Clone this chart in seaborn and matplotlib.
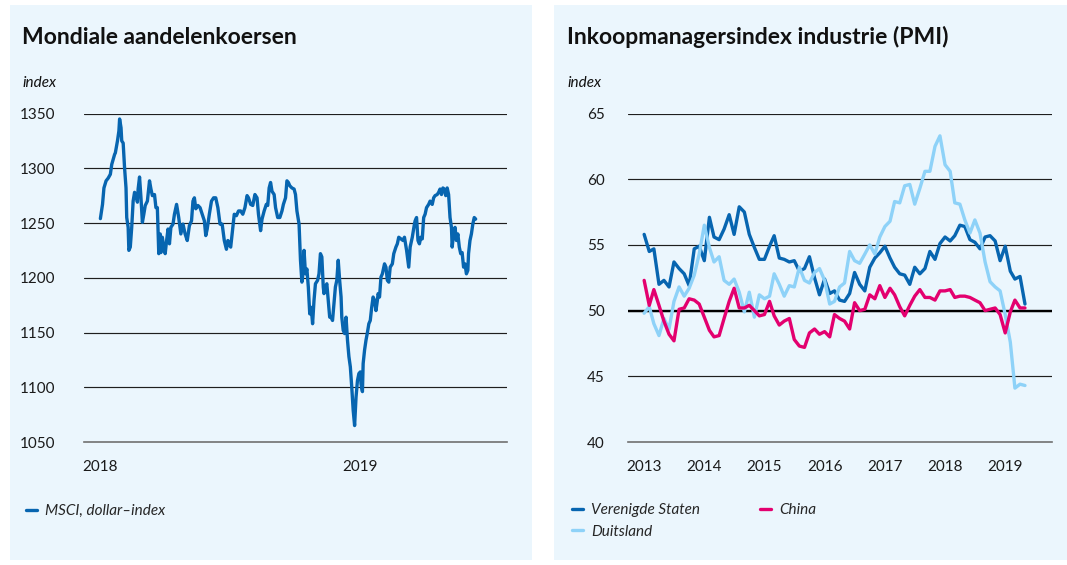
"""Mondiale aandelenkoersen (MSCI) and PMI industry panels, side by side."""

import matplotlib
matplotlib.use("Agg")
import matplotlib.pyplot as plt
from matplotlib.patches import Rectangle
import pandas as pd
import seaborn as sns

# MSCI world, dollar index: days since 2018-01-01 and index level
msci_days = [
    0, 3, 5, 8, 11, 14, 16, 18, 20, 21, 24, 26, 27, 29, 30, 32, 34, 36, 37, 39,
    40, 42, 44, 46, 48, 50, 52, 53, 55, 57, 59, 61, 63, 66, 69, 71, 73, 76, 78, 80,
    82, 84, 85, 87, 89, 91, 93, 95, 97, 99, 102, 104, 107, 110, 113, 116, 119, 122, 125, 128,
    130, 132, 134, 137, 140, 143, 146, 148, 150, 153, 156, 159, 162, 165, 168, 171, 174, 177, 179, 182,
    183, 186, 188, 191, 194, 197, 200, 203, 206, 208, 211, 214, 217, 220, 222, 225, 227, 230, 233, 235,
    237, 239, 241, 244, 246, 249, 252, 255, 257, 260, 262, 264, 266, 269, 272, 274, 276, 279, 281, 283,
    285, 286, 288, 290, 292, 294, 296, 298, 300, 302, 305, 307, 309, 311, 313, 314, 316, 318, 320, 322,
    324, 326, 328, 330, 332, 334, 336, 338, 339, 341, 343, 345, 347, 349, 351, 353, 355, 357, 359, 361,
    363, 365, 366, 368, 369, 371, 373, 375, 377, 379, 381, 383, 385, 387, 389, 390, 392, 394, 396, 399,
    401, 403, 405, 407, 410, 412, 415, 417, 419, 422, 425, 427, 430, 433, 435, 438, 441, 442, 444, 446,
    448, 450, 452, 454, 456, 458, 461, 463, 466, 468, 470, 473, 475, 477, 479, 481, 483, 485, 487, 489,
    491, 493, 494, 496, 498, 500, 502, 504, 506, 508, 510, 512, 514, 516, 517, 519, 521, 523, 525, 527,
]
msci_values = [
    1254, 1267, 1282, 1288.5, 1291, 1294.5, 1303.6, 1308, 1312.7, 1314, 1325, 1334, 1345, 1337, 1325, 1323, 1300, 1282, 1255, 1246,
    1225, 1228, 1246, 1270, 1278, 1276, 1269, 1281, 1292, 1273, 1250.6, 1258, 1266, 1270, 1288.5, 1281, 1275, 1276, 1264, 1264,
    1222, 1240, 1223, 1237, 1228, 1222, 1234, 1244.5, 1231, 1246, 1249, 1258, 1267, 1255, 1240, 1249, 1240, 1234, 1247.6, 1252,
    1270, 1273, 1263, 1266, 1264, 1258, 1252, 1238.5, 1244.5, 1258, 1270, 1273, 1273, 1264, 1249, 1249, 1234, 1226, 1234, 1229,
    1228, 1246, 1258, 1256.7, 1261, 1261, 1258, 1264, 1275, 1273, 1267, 1266, 1276, 1273, 1258, 1243, 1253.6, 1261, 1267, 1266,
    1282, 1287, 1279, 1276, 1264, 1255, 1255, 1261, 1267, 1273, 1288.5, 1287, 1284, 1282, 1281, 1276, 1261, 1249, 1216, 1196,
    1206.7, 1225, 1203.6, 1208, 1191.5, 1167, 1173, 1158, 1179.4, 1194.5, 1197.6, 1203.6, 1222, 1219, 1191.5, 1185.5, 1191.5, 1194.5, 1179.4, 1164,
    1164, 1161, 1176, 1191.5, 1197.6, 1216, 1197.6, 1182.4, 1164, 1152, 1149, 1164, 1143, 1128, 1118.6, 1100, 1079, 1065, 1091, 1106,
    1112.5, 1114, 1103, 1096, 1121.6, 1134, 1143, 1150, 1158, 1161, 1173, 1182.4, 1179.4, 1170, 1179.4, 1185.5, 1182.4, 1200.6, 1203.6, 1212.7,
    1209.7, 1197.6, 1196, 1209.7, 1212.7, 1222, 1228, 1231, 1237, 1235.5, 1234, 1237, 1225, 1209.7, 1228, 1237, 1249, 1252, 1255, 1234,
    1231, 1237, 1235.5, 1255, 1258, 1264, 1267, 1270, 1267, 1273, 1275, 1276, 1278, 1281, 1276, 1282, 1281, 1275, 1282, 1276,
    1255, 1246, 1228, 1240, 1246, 1234, 1240, 1228, 1222, 1223, 1209.7, 1212.7, 1203.6, 1206.7, 1222, 1234, 1240, 1249, 1255, 1253.6,
]

# Monthly PMI, January 2013 - May 2019
pmi_us = [
    55.8, 54.5, 54.7, 52.0, 52.3, 51.8, 53.7, 53.2, 52.8, 51.9, 54.7, 54.9,
    53.8, 57.1, 55.6, 55.4, 56.2, 57.3, 55.8, 57.9, 57.5, 55.8, 54.8, 53.9,
    53.9, 54.9, 55.7, 54.0, 53.9, 53.7, 53.8, 53.0, 53.2, 54.1, 52.5, 51.2,
    52.4, 51.3, 51.5, 50.8, 50.7, 51.3, 52.9, 52.0, 51.5, 53.3, 54.0, 54.4,
    54.9, 54.0, 53.3, 52.8, 52.7, 52.0, 53.3, 52.8, 53.2, 54.5, 53.9, 55.1,
    55.6, 55.3, 55.7, 56.5, 56.4, 55.4, 55.2, 54.7, 55.6, 55.7, 55.3, 53.8,
    54.9, 53.0, 52.4, 52.6, 50.5,
]
pmi_china = [
    52.3, 50.4, 51.6, 50.4, 49.2, 48.2, 47.7, 50.1, 50.2, 50.9, 50.8, 50.5,
    49.5, 48.5, 48.0, 48.1, 49.4, 50.7, 51.7, 50.2, 50.2, 50.4, 50.0, 49.6,
    49.7, 50.7, 49.6, 48.9, 49.2, 49.4, 47.8, 47.3, 47.2, 48.3, 48.6, 48.2,
    48.4, 48.0, 49.7, 49.4, 49.2, 48.6, 50.6, 50.0, 50.1, 51.2, 50.9, 51.9,
    51.0, 51.7, 51.2, 50.3, 49.6, 50.4, 51.1, 51.6, 51.0, 51.0, 50.8, 51.5,
    51.5, 51.6, 51.0, 51.1, 51.1, 51.0, 50.8, 50.6, 50.0, 50.1, 50.2, 49.7,
    48.3, 49.9, 50.8, 50.2, 50.2,
]
pmi_germany = [
    49.8, 50.3, 49.0, 48.1, 49.4, 48.6, 50.7, 51.8, 51.1, 51.7, 52.7, 54.3,
    56.5, 54.8, 53.7, 54.1, 52.3, 52.0, 52.4, 51.4, 49.9, 51.4, 49.5, 51.2,
    50.9, 51.1, 52.8, 52.0, 51.1, 51.9, 51.8, 53.3, 52.3, 52.1, 52.9, 53.2,
    52.3, 50.5, 50.7, 51.8, 52.1, 54.5, 53.8, 53.6, 54.3, 55.0, 54.3, 55.6,
    56.4, 56.8, 58.3, 58.2, 59.5, 59.6, 58.1, 59.3, 60.6, 60.6, 62.5, 63.3,
    61.1, 60.6, 58.2, 58.1, 56.9, 55.9, 56.9, 55.9, 53.7, 52.2, 51.8, 51.5,
    49.7, 47.6, 44.1, 44.4, 44.3,
]

msci_ticks = [1050, 1100, 1150, 1200, 1250, 1300, 1350]
pmi_ticks = [40, 45, 50, 55, 60, 65]

DARK_BLUE = "#0765b0"
LIGHT_BLUE = "#8ed2f8"
MAGENTA = "#e3006f"
PANEL = "#ebf6fd"
GRID = "#1e1e1e"
AXIS = "#707070"

W, H = 1067, 565

sns.set_theme(style="white")
plt.rcParams["font.family"] = ["Lato", "DejaVu Sans"]


def fx(px):
    return px / W


def fy(py):
    return 1 - py / H


def style_axis(ax, ticks, pad):
    ax.set_facecolor("none")
    ax.set_yticks(ticks)
    ax.set_yticklabels([str(t) for t in ticks])
    ax.set_ylim(ticks[0], ticks[-1])
    ax.grid(False)
    for t in ticks[1:]:
        ax.axhline(t, color=GRID, linewidth=0.85, zorder=1)
    for side in ["left", "right", "top"]:
        ax.spines[side].set_visible(False)
    ax.spines["bottom"].set_color(AXIS)
    ax.spines["bottom"].set_linewidth(1.2)
    ax.tick_params(axis="y", length=0, pad=pad, labelsize=11, colors="#1a1a1a")
    ax.tick_params(axis="x", length=4, width=1, color=AXIS, direction="out",
                   pad=9, labelsize=11, labelcolor="#1a1a1a")
    ax.set_xlabel("")
    ax.set_ylabel("")


fig = plt.figure(figsize=(W / 100, H / 100), dpi=100)
for x0, x1 in [(10, 532), (554, 1067)]:
    fig.patches.append(Rectangle((fx(x0), fy(560)), fx(x1 - x0), (560 - 5) / H,
                                 transform=fig.transFigure, facecolor=PANEL,
                                 edgecolor="none", zorder=-10))

# left panel: world share prices
ax1 = fig.add_axes([fx(84), fy(442), fx(507 - 84), (442 - 113.5) / H])
msci = pd.DataFrame({
    "date": pd.Timestamp("2018-01-01") + pd.to_timedelta(msci_days, unit="D"),
    "value": msci_values,
})
sns.lineplot(data=msci, x="date", y="value", ax=ax1, color=DARK_BLUE,
             linewidth=2.4, label="MSCI, dollar\u2013index", zorder=3)
ax1.set_xlim(pd.Timestamp("2017-12-09"), pd.Timestamp("2019-07-26"))
ax1.set_xticks([pd.Timestamp("2018-01-01"), pd.Timestamp("2019-01-01")])
ax1.set_xticklabels(["2018", "2019"])
style_axis(ax1, msci_ticks, 21)
ax1.legend(loc="center left", bbox_to_anchor=(fx(26), fy(511)), bbox_transform=fig.transFigure,
           frameon=False, borderpad=0, borderaxespad=0, handlelength=0.75,
           handletextpad=0.5, prop={"style": "italic", "size": 11})

# right panel: PMI industry
ax2 = fig.add_axes([fx(628), fy(442), fx(1052 - 628), (442 - 113.5) / H])
months = pd.date_range("2013-01-01", periods=len(pmi_us), freq="MS")
pmi = pd.DataFrame({"date": months, "us": pmi_us, "china": pmi_china, "de": pmi_germany})
ax2.axhline(50, color="black", linewidth=1.7, zorder=2)
sns.lineplot(data=pmi, x="date", y="us", ax=ax2, color=DARK_BLUE, linewidth=2.4,
             label="Verenigde Staten", zorder=3)
sns.lineplot(data=pmi, x="date", y="de", ax=ax2, color=LIGHT_BLUE, linewidth=2.4,
             label="Duitsland", zorder=3)
sns.lineplot(data=pmi, x="date", y="china", ax=ax2, color=MAGENTA, linewidth=2.4,
             label="China", zorder=3)
years = list(range(2013, 2020))
ax2.set_xlim(pd.Timestamp("2012-09-25"), pd.Timestamp("2019-10-12"))
ax2.set_xticks([pd.Timestamp(f"{y}-01-01") for y in years])
ax2.set_xticklabels([str(y) for y in years])
style_axis(ax2, pmi_ticks, 17)
ax2.legend(loc="upper left", bbox_to_anchor=(fx(572), fy(503)), bbox_transform=fig.transFigure,
           ncol=2, frameon=False, borderpad=0, borderaxespad=0, handlelength=0.75,
           handletextpad=0.5, labelspacing=0.5, columnspacing=3.9,
           prop={"style": "italic", "size": 11})

# titles and unit labels
fig.text(fx(22), fy(37), "Mondiale aandelenkoersen", fontsize=16.5, fontweight="bold",
         va="center", ha="left", color="#111111")
fig.text(fx(567), fy(37), "Inkoopmanagersindex industrie (PMI)", fontsize=16.5,
         fontweight="bold", va="center", ha="left", color="#111111")
fig.text(fx(22), fy(83), "index", fontsize=11, style="italic", va="center", ha="left", color="#111111")
fig.text(fx(567), fy(83), "index", fontsize=11, style="italic", va="center", ha="left", color="#111111")

fig.savefig("out.png", dpi=100, facecolor="white")
